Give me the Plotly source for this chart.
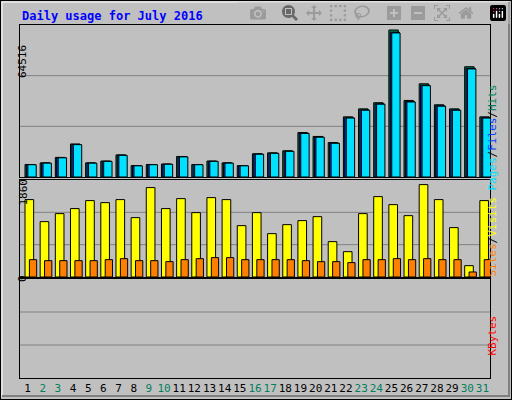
import plotly.graph_objects as go

days = list(range(1, 32))
hits = [5500, 6200, 8600, 14500, 6200, 7000, 9700, 5000, 5500, 5700, 9000, 5500, 7000, 6200, 5000,
        10200, 10600, 11500, 19500, 17800, 15100, 26400, 29900, 32600, 64516, 33600, 40900, 31700, 29900, 48400, 26400]
files = [h * 0.985 for h in hits]
pages = [h * 0.98 for h in hits]
visits = [1558, 1115, 1276, 1377, 1538, 1497, 1558, 1195, 1800, 1377, 1578, 1296, 1598, 1558, 1034,
          1296, 873, 1054, 1135, 1215, 712, 510, 1276, 1618, 1457, 1235, 1860, 1558, 994, 228, 1538]
sites = [349, 329, 329, 329, 329, 349, 369, 329, 329, 309, 349, 369, 390, 390, 349,
         349, 349, 349, 329, 309, 309, 289, 349, 349, 369, 349, 369, 349, 349, 101, 349]
kbytes = [0] * 31
weekend = {2, 3, 9, 10, 16, 17, 23, 24, 30, 31}
ticktext = [f"<span style='color:#00805c'>{d}</span>" if d in weekend else str(d) for d in days]

W, H = 512, 400
def px(x): return x / W
def py(y): return 1 - y / H

fig = go.Figure()
line = dict(color="black", width=1)
fig.add_bar(x=days, y=hits, offset=-0.17, width=0.62, marker=dict(color="#00805c", line=line), xaxis="x", yaxis="y")
fig.add_bar(x=days, y=files, offset=-0.08, width=0.6, marker=dict(color="#0040ff", line=line), xaxis="x", yaxis="y")
fig.add_bar(x=days, y=pages, offset=0.02, width=0.55, marker=dict(color="#00e0ff", line=line), xaxis="x", yaxis="y")
fig.add_bar(x=days, y=visits, offset=-0.17, width=0.57, marker=dict(color="#ffff00", line=line), xaxis="x2", yaxis="y2")
fig.add_bar(x=days, y=sites, offset=0.12, width=0.48, marker=dict(color="#ff8000", line=line), xaxis="x3", yaxis="y2")
fig.add_bar(x=days, y=kbytes, offset=-0.1, width=0.6, marker=dict(color="#ff0000", line=dict(width=0)), xaxis="x4", yaxis="y3")

xd = [px(20), px(490)]
ax = dict(range=[0.5, 31.5], domain=xd, showgrid=False, zeroline=False, showline=True, mirror=True,
          linecolor="black", linewidth=1, ticks="")
yax = dict(showgrid=False, zeroline=False, showline=True, mirror=True, linecolor="black",
           showticklabels=False, ticks="")
fig.update_layout(
    width=W, height=H, margin=dict(l=0, r=0, t=0, b=0, autoexpand=False),
    paper_bgcolor="#c0c0c0", plot_bgcolor="#c0c0c0", showlegend=False, barmode="overlay",
    font=dict(family="DejaVu Sans Mono", size=11, color="black"),
    xaxis=dict(ax, anchor="y", showticklabels=False),
    xaxis2=dict(ax, anchor="y2", showticklabels=False),
    xaxis3=dict(ax, anchor="y2", overlaying="x2", showticklabels=False, showline=False),
    xaxis4=dict(ax, anchor="y3", tickmode="array", tickvals=days, ticktext=ticktext, tickangle=0,
                tickfont=dict(size=11, color="black"), automargin=False),
    yaxis=dict(yax, domain=[py(177), py(25)], range=[0, 64516 * 152 / 147]),
    yaxis2=dict(yax, domain=[py(277), py(180)], range=[0, 1860 * 97 / 92.4]),
    yaxis3=dict(yax, domain=[py(378), py(279)], range=[-3, 0]),
)

shapes = []
for xr, yr in [("x", "y"), ("x2", "y2"), ("x4", "y3")]:
    for f in (1 / 3, 2 / 3):
        shapes.append(dict(type="line", xref=f"{xr} domain", yref=f"{yr} domain", x0=0, x1=1, y0=f, y1=f,
                           line=dict(color="#808080", width=1), layer="below"))
shapes += [
    dict(type="rect", xref="paper", yref="paper", x0=0, x1=1, y0=0, y1=1, line=dict(color="black", width=2)),
    dict(type="line", xref="paper", yref="paper", x0=px(2), x1=px(509), y0=py(2), y1=py(2), line=dict(color="white", width=1)),
    dict(type="line", xref="paper", yref="paper", x0=px(2), x1=px(2), y0=py(2), y1=py(397), line=dict(color="white", width=1)),
    dict(type="line", xref="paper", yref="paper", x0=px(2), x1=px(509), y0=py(396), y1=py(396), line=dict(color="#808080", width=2)),
    dict(type="line", xref="paper", yref="paper", x0=px(509), x1=px(509), y0=py(2), y1=py(397), line=dict(color="#808080", width=2)),
]
fig.update_layout(shapes=shapes)

mono = "DejaVu Sans Mono"
ann = [
    dict(text="<b>Daily usage for July 2016</b>", x=px(20), y=py(16), xanchor="left", yanchor="middle",
         font=dict(family=mono, size=12, color="#0000ff")),
    dict(text="64516", x=px(14), y=py(43), textangle=-90, font=dict(family=mono, size=11)),
    dict(text="1860", x=px(14), y=py(192), textangle=-90, font=dict(family=mono, size=11)),
    dict(text="0", x=px(14), y=py(284), textangle=-90, font=dict(family=mono, size=11)),
    dict(text="<span style='color:#00e0ff'>Pages</span>/<span style='color:#0040ff'>Files</span>/<span style='color:#00805c'>Hits</span>",
         x=px(500), y=py(83), textangle=-90, font=dict(family=mono, size=11, color="black")),
    dict(text="<span style='color:#ff8000'>Sites</span>/<span style='color:#ffff00'>Visits</span>",
         x=px(500), y=py(237), textangle=-90, font=dict(family=mono, size=11, color="black")),
    dict(text="KBytes", x=px(500), y=py(358), textangle=-90, font=dict(family=mono, size=11, color="#ff0000")),
]
for a in ann:
    a.setdefault("xref", "paper"); a.setdefault("yref", "paper"); a["showarrow"] = False
fig.update_layout(annotations=ann)

fig.write_html("out.html", post_script="document.body.style.margin='0';document.body.style.overflow='hidden';")
